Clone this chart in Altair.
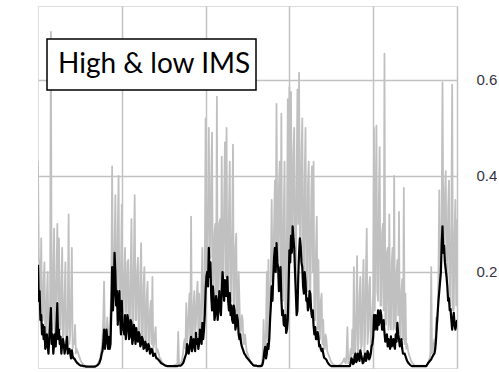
import altair as alt
import pandas as pd

# IMS index sampled every half week over five seasons (weeks 0 .. 260)
high_ims = [
    # season 1
    0.43, 0.23, 0.22, 0.12, 0.27, 0.10, 0.10, 0.18, 0.22, 0.07,
    0.07, 0.15, 0.20, 0.06, 0.07, 0.14, 0.70, 0.13, 0.08, 0.20,
    0.29, 0.07, 0.10, 0.20, 0.30, 0.14, 0.27, 0.09, 0.08, 0.18,
    0.25, 0.06, 0.07, 0.15, 0.22, 0.05, 0.06, 0.12, 0.32, 0.05,
    0.07, 0.14, 0.25, 0.04, 0.06, 0.05, 0.09, 0.03, 0.04, 0.035,
    0.03, 0.025, 0.02, 0.015, 0.012, 0.01, 0.008, 0.006, 0.005, 0.005,
    0.004, 0.004, 0.003, 0.003, 0.003, 0.003, 0.003, 0.003, 0.003, 0.003,
    0.004, 0.004, 0.005, 0.006, 0.008, 0.012, 0.015, 0.02, 0.03, 0.04,
    0.06, 0.10, 0.18, 0.07, 0.05, 0.08, 0.105, 0.06, 0.06, 0.09,
    0.12, 0.16, 0.42, 0.17, 0.15, 0.25, 0.36, 0.18, 0.13, 0.28,
    0.40, 0.13, 0.12, 0.22, 0.34, 0.12,
    # season 2
    0.10, 0.20, 0.25, 0.12, 0.11, 0.22, 0.225, 0.09, 0.08, 0.20,
    0.31, 0.10, 0.09, 0.22, 0.36, 0.10, 0.10, 0.20, 0.23, 0.08,
    0.07, 0.20, 0.26, 0.07, 0.065, 0.17, 0.21, 0.06, 0.055, 0.15,
    0.18, 0.05, 0.05, 0.12, 0.14, 0.05, 0.19, 0.04, 0.05, 0.07,
    0.085, 0.03, 0.04, 0.035, 0.03, 0.02, 0.02, 0.015, 0.012, 0.01,
    0.008, 0.006, 0.005, 0.005, 0.004, 0.004, 0.004, 0.004, 0.004, 0.004,
    0.004, 0.004, 0.005, 0.005, 0.006, 0.007, 0.008, 0.01, 0.075, 0.01,
    0.01, 0.01, 0.012, 0.02, 0.03, 0.05, 0.06, 0.04, 0.135, 0.05,
    0.07, 0.12, 0.155, 0.05, 0.315, 0.06, 0.06, 0.13, 0.16, 0.07,
    0.09, 0.15, 0.18, 0.07, 0.155, 0.06, 0.08, 0.17, 0.25, 0.10,
    0.10, 0.20, 0.52, 0.17,
    # season 3
    0.21, 0.35, 0.50, 0.24, 0.23, 0.40, 0.49, 0.14, 0.16, 0.28,
    0.30, 0.13, 0.565, 0.15, 0.14, 0.30, 0.31, 0.15, 0.44, 0.17,
    0.19, 0.35, 0.47, 0.19, 0.50, 0.16, 0.15, 0.33, 0.43, 0.16,
    0.14, 0.30, 0.465, 0.11, 0.13, 0.25, 0.28, 0.10, 0.11, 0.20,
    0.14, 0.07, 0.08, 0.11, 0.10, 0.05, 0.05, 0.07, 0.05, 0.035,
    0.03, 0.025, 0.02, 0.015, 0.012, 0.01, 0.008, 0.007, 0.006, 0.005,
    0.005, 0.005, 0.005, 0.005, 0.005, 0.005, 0.006, 0.007, 0.008, 0.03,
    0.10, 0.03, 0.04, 0.08, 0.20, 0.05, 0.225, 0.06, 0.10, 0.20,
    0.35, 0.18, 0.20, 0.30, 0.39, 0.26, 0.55, 0.27, 0.22, 0.38,
    0.43, 0.19, 0.53, 0.16, 0.14, 0.32, 0.43, 0.10, 0.10, 0.30,
    0.56, 0.15, 0.585, 0.26,
    # season 4
    0.575, 0.30, 0.28, 0.45, 0.50, 0.20, 0.17, 0.40, 0.58, 0.30,
    0.615, 0.26, 0.26, 0.45, 0.52, 0.22, 0.17, 0.40, 0.50, 0.19,
    0.16, 0.38, 0.43, 0.14, 0.16, 0.35, 0.42, 0.20, 0.43, 0.10,
    0.10, 0.25, 0.315, 0.08, 0.225, 0.09, 0.06, 0.14, 0.155, 0.05,
    0.10, 0.04, 0.04, 0.07, 0.058, 0.035, 0.03, 0.025, 0.022, 0.016,
    0.012, 0.01, 0.008, 0.007, 0.006, 0.005, 0.005, 0.005, 0.005, 0.005,
    0.006, 0.007, 0.008, 0.01, 0.012, 0.016, 0.02, 0.012, 0.01, 0.03,
    0.085, 0.01, 0.01, 0.02, 0.04, 0.02, 0.08, 0.03, 0.21, 0.02,
    0.04, 0.12, 0.233, 0.03, 0.06, 0.15, 0.19, 0.04, 0.05, 0.17,
    0.225, 0.03, 0.07, 0.20, 0.29, 0.05, 0.08, 0.17, 0.19, 0.04,
    0.06, 0.12, 0.155, 0.50,
    # season 5
    0.12, 0.30, 0.505, 0.16, 0.14, 0.35, 0.46, 0.13, 0.13, 0.28,
    0.30, 0.12, 0.655, 0.10, 0.09, 0.24, 0.25, 0.08, 0.32, 0.10,
    0.08, 0.22, 0.25, 0.08, 0.40, 0.09, 0.08, 0.20, 0.225, 0.11,
    0.325, 0.08, 0.06, 0.16, 0.185, 0.06, 0.375, 0.05, 0.155, 0.04,
    0.05, 0.04, 0.03, 0.025, 0.02, 0.015, 0.012, 0.01, 0.008, 0.006,
    0.005, 0.005, 0.005, 0.005, 0.005, 0.005, 0.005, 0.005, 0.005, 0.005,
    0.005, 0.005, 0.005, 0.005, 0.005, 0.007, 0.01, 0.015, 0.02, 0.03,
    0.21, 0.03, 0.037, 0.05, 0.06, 0.04, 0.105, 0.08, 0.10, 0.20,
    0.37, 0.18, 0.21, 0.32, 0.595, 0.30, 0.26, 0.36, 0.41, 0.21,
    0.18, 0.33, 0.39, 0.16, 0.13, 0.30, 0.59, 0.12, 0.12, 0.28,
    0.35, 0.13, 0.31,
]

low_ims = [
    # season 1
    0.215, 0.14, 0.16, 0.10, 0.11, 0.07, 0.09, 0.06, 0.085, 0.04,
    0.05, 0.07, 0.045, 0.03, 0.06, 0.09, 0.125, 0.05, 0.07, 0.03,
    0.05, 0.07, 0.045, 0.09, 0.135, 0.06, 0.08, 0.05, 0.065, 0.03,
    0.05, 0.06, 0.05, 0.03, 0.04, 0.05, 0.065, 0.03, 0.035, 0.04,
    0.03, 0.02, 0.037, 0.025, 0.02, 0.02, 0.017, 0.014, 0.012, 0.01,
    0.009, 0.007, 0.006, 0.005, 0.005, 0.005, 0.004, 0.004, 0.004, 0.003,
    0.003, 0.003, 0.003, 0.003, 0.003, 0.003, 0.003, 0.003, 0.003, 0.003,
    0.003, 0.003, 0.004, 0.005, 0.006, 0.008, 0.01, 0.015, 0.02, 0.03,
    0.035, 0.05, 0.08, 0.04, 0.06, 0.08, 0.058, 0.04, 0.065, 0.04,
    0.05, 0.12, 0.21, 0.12, 0.155, 0.24, 0.20, 0.13, 0.16, 0.09,
    0.127, 0.16, 0.10, 0.07, 0.14, 0.08,
    # season 2
    0.085, 0.07, 0.11, 0.06, 0.08, 0.11, 0.10, 0.06, 0.065, 0.10,
    0.094, 0.05, 0.06, 0.09, 0.08, 0.05, 0.083, 0.06, 0.055, 0.075,
    0.07, 0.045, 0.05, 0.065, 0.06, 0.04, 0.042, 0.055, 0.05, 0.035,
    0.04, 0.05, 0.045, 0.03, 0.033, 0.04, 0.037, 0.025, 0.028, 0.03,
    0.025, 0.02, 0.02, 0.018, 0.016, 0.014, 0.012, 0.01, 0.009, 0.008,
    0.007, 0.006, 0.005, 0.005, 0.004, 0.004, 0.004, 0.004, 0.004, 0.004,
    0.004, 0.004, 0.004, 0.004, 0.004, 0.004, 0.004, 0.004, 0.005, 0.005,
    0.005, 0.005, 0.006, 0.008, 0.01, 0.014, 0.02, 0.025, 0.03, 0.05,
    0.044, 0.03, 0.04, 0.055, 0.065, 0.035, 0.044, 0.06, 0.05, 0.035,
    0.073, 0.05, 0.06, 0.04, 0.052, 0.08, 0.07, 0.05, 0.094, 0.06,
    0.08, 0.11, 0.16, 0.19,
    # season 3
    0.20, 0.17, 0.25, 0.19, 0.22, 0.15, 0.12, 0.17, 0.15, 0.10,
    0.11, 0.15, 0.14, 0.10, 0.123, 0.16, 0.13, 0.11, 0.156, 0.20,
    0.177, 0.14, 0.183, 0.15, 0.15, 0.19, 0.14, 0.12, 0.156, 0.11,
    0.13, 0.10, 0.094, 0.13, 0.12, 0.08, 0.09, 0.11, 0.10, 0.07,
    0.06, 0.07, 0.052, 0.045, 0.04, 0.035, 0.03, 0.028, 0.025, 0.022,
    0.02, 0.018, 0.016, 0.014, 0.012, 0.01, 0.008, 0.006, 0.005, 0.005,
    0.005, 0.005, 0.004, 0.004, 0.004, 0.004, 0.004, 0.004, 0.005, 0.01,
    0.02, 0.035, 0.044, 0.02, 0.03, 0.05, 0.04, 0.06, 0.10, 0.13,
    0.17, 0.14, 0.19, 0.23, 0.25, 0.20, 0.26, 0.22, 0.21, 0.16,
    0.18, 0.21, 0.145, 0.11, 0.12, 0.09, 0.088, 0.11, 0.073, 0.08,
    0.10, 0.17, 0.245, 0.22,
    # season 4
    0.275, 0.24, 0.295, 0.27, 0.25, 0.20, 0.155, 0.11, 0.12, 0.19,
    0.24, 0.27, 0.255, 0.22, 0.21, 0.17, 0.155, 0.20, 0.18, 0.14,
    0.145, 0.12, 0.127, 0.16, 0.155, 0.12, 0.106, 0.12, 0.088, 0.07,
    0.085, 0.06, 0.06, 0.075, 0.065, 0.045, 0.048, 0.04, 0.035, 0.04,
    0.03, 0.022, 0.02, 0.019, 0.017, 0.013, 0.01, 0.008, 0.006, 0.005,
    0.004, 0.004, 0.004, 0.004, 0.004, 0.004, 0.004, 0.004, 0.004, 0.004,
    0.004, 0.004, 0.004, 0.004, 0.004, 0.004, 0.004, 0.004, 0.004, 0.004,
    0.004, 0.004, 0.004, 0.004, 0.01, 0.02, 0.017, 0.008, 0.01, 0.025,
    0.03, 0.012, 0.017, 0.03, 0.025, 0.015, 0.037, 0.028, 0.02, 0.01,
    0.012, 0.022, 0.03, 0.015, 0.02, 0.035, 0.03, 0.018, 0.022, 0.03,
    0.045, 0.05, 0.065, 0.11,
    # season 5
    0.08, 0.11, 0.10, 0.08, 0.12, 0.09, 0.095, 0.12, 0.11, 0.08,
    0.08, 0.10, 0.073, 0.055, 0.06, 0.07, 0.045, 0.06, 0.052, 0.04,
    0.066, 0.045, 0.05, 0.06, 0.046, 0.04, 0.07, 0.055, 0.094, 0.07,
    0.06, 0.045, 0.05, 0.06, 0.04, 0.03, 0.03, 0.03, 0.025, 0.02,
    0.015, 0.012, 0.01, 0.008, 0.006, 0.005, 0.004, 0.004, 0.004, 0.004,
    0.004, 0.004, 0.004, 0.004, 0.004, 0.004, 0.004, 0.004, 0.004, 0.004,
    0.004, 0.004, 0.004, 0.004, 0.004, 0.007, 0.01, 0.012, 0.014, 0.016,
    0.018, 0.022, 0.025, 0.028, 0.03, 0.04, 0.06, 0.09, 0.115, 0.14,
    0.16, 0.18, 0.20, 0.26, 0.295, 0.24, 0.255, 0.22, 0.205, 0.19,
    0.17, 0.14, 0.145, 0.12, 0.123, 0.10, 0.08, 0.10, 0.115, 0.09,
    0.08, 0.09, 0.10,
]

assert len(high_ims) == len(low_ims) == 521

weeks = [i / 2 for i in range(len(high_ims))]
season_breaks = [52, 104, 156, 208, 260]
y_ticks = [0.2, 0.4, 0.6]
label_text = "High & low IMS"

df = pd.DataFrame({"week": weeks, "high": high_ims, "low": low_ims})

grid_color = "#c2c2c2"

x_scale = alt.Scale(domain=[0, 260], nice=False, zero=False)
y_scale = alt.Scale(domain=[0, 0.754], nice=False)

base = alt.Chart(df)

high_line = base.mark_line(
    color="#c0c0c0", strokeWidth=1.8, strokeJoin="round", clip=True
).encode(
    x=alt.X(
        "week:Q", scale=x_scale,
        axis=alt.Axis(values=season_breaks, labels=False, ticks=False, domain=False,
                      title=None, grid=True, gridColor=grid_color, gridWidth=1.5),
    ),
    y=alt.Y(
        "high:Q", scale=y_scale,
        axis=alt.Axis(orient="right", values=y_ticks, format=".1f", domain=False,
                      ticks=False, labelPadding=19, labelFontSize=15,
                      labelFont="Liberation Sans", labelColor="#333344",
                      title=None, grid=True, gridColor=grid_color, gridWidth=1.5),
    ),
)

low_line = base.mark_line(
    color="#000000", strokeWidth=2.2, strokeJoin="round", clip=True
).encode(
    x=alt.X("week:Q", scale=x_scale),
    y=alt.Y("low:Q", scale=y_scale),
)

label_df = pd.DataFrame({"t": [label_text]})

box = alt.Chart(label_df).mark_rect(
    fill="white", stroke="black", strokeWidth=1.5
).encode(
    x=alt.value(9), x2=alt.value(218), y=alt.value(33), y2=alt.value(84)
)

box_text = alt.Chart(label_df).mark_text(
    align="left", baseline="alphabetic", font="Lato", fontSize=28, color="black"
).encode(
    x=alt.value(20), y=alt.value(67), text="t:N"
)

chart = alt.layer(high_line, low_line, box, box_text).properties(
    width=419, height=362,
    padding={"left": 38, "top": 6, "right": 0, "bottom": 4},
).configure_view(stroke=None).configure(background="white")

chart.save("out.html", embed_options={"renderer": "svg", "actions": False})
